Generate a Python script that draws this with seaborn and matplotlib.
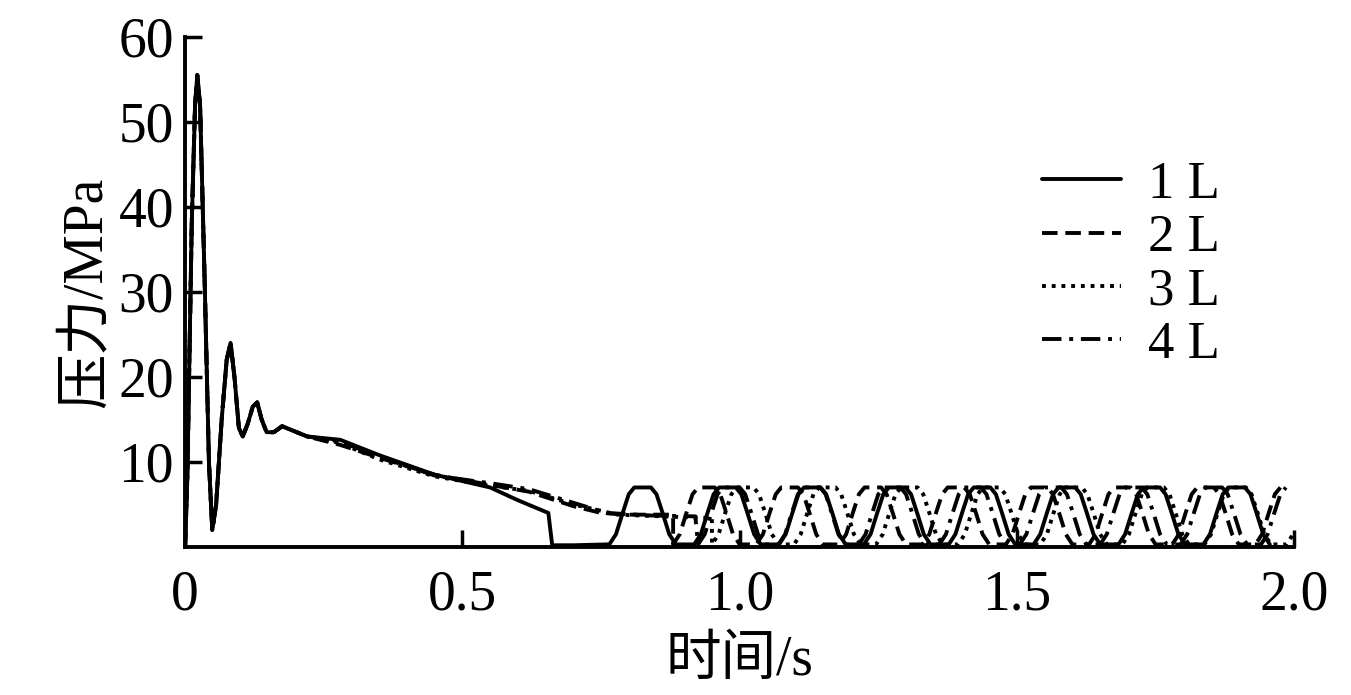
import numpy as np
import pandas as pd
import matplotlib
matplotlib.use("Agg")
import matplotlib.pyplot as plt
import seaborn as sns

sns.set_theme(style="white")
plt.rcParams['font.family'] = ['Liberation Serif', 'Noto Sans CJK SC']
plt.rcParams['text.color'] = 'black'
plt.rcParams['axes.labelcolor'] = 'black'

# early transient (shared by all four volumes)
t_head = [0.0, 0.004, 0.012, 0.018, 0.022, 0.027, 0.035, 0.043, 0.049, 0.056, 0.066, 0.075,
          0.082, 0.089, 0.097, 0.104, 0.113, 0.122, 0.130, 0.138, 0.147, 0.160, 0.175, 0.190]
p_head = [0.0, 8.0, 38.0, 52.0, 55.5, 52.0, 32.0, 10.0, 2.0, 5.0, 15.0, 22.0,
          24.0, 20.0, 14.0, 13.0, 14.5, 16.5, 17.0, 15.0, 13.5, 13.5, 14.2, 13.8]

# decay section per series
t_dec1 = [0.22, 0.28, 0.35, 0.45, 0.55, 0.60, 0.655, 0.662, 0.70, 0.76]
p_dec1 = [13.0, 12.6, 10.8, 8.5, 7.0, 5.5, 4.0, 0.2, 0.2, 0.3]
t_dec2 = [0.22, 0.28, 0.35, 0.45, 0.55, 0.62, 0.70, 0.75, 0.80, 0.88]
p_dec2 = [13.0, 12.0, 10.5, 8.5, 7.3, 6.5, 4.8, 4.0, 3.8, 3.8]
t_dec3 = [0.22, 0.28, 0.35, 0.45, 0.55, 0.62, 0.70, 0.78, 0.86, 0.95]
p_dec3 = [13.0, 12.2, 10.3, 8.3, 7.2, 6.6, 5.0, 3.8, 3.6, 3.4]
t_dec4 = [0.22, 0.28, 0.35, 0.45, 0.55, 0.62, 0.70, 0.76, 0.84, 0.92]
p_dec4 = [13.0, 12.4, 10.6, 8.4, 7.5, 6.8, 5.2, 4.0, 3.7, 3.6]

# pulse train: start times of each pulse, and the pulse profile
pulse_dt = [0.0, 0.012, 0.024, 0.035, 0.045, 0.075, 0.085, 0.096, 0.108, 0.12]
pulse_p = [0.3, 1.5, 4.0, 6.2, 7.0, 7.0, 6.2, 4.0, 1.5, 0.3]
starts1 = [0.765, 0.918, 1.071, 1.224, 1.377, 1.530, 1.683, 1.836]
starts2 = [0.880, 1.030, 1.180, 1.330, 1.480, 1.630, 1.780, 1.930]
starts3 = [0.950, 1.098, 1.246, 1.394, 1.542, 1.690, 1.838, 1.986]
starts4 = [0.925, 1.070, 1.215, 1.360, 1.505, 1.650, 1.795, 1.940]

labels = ["1 L", "2 L", "3 L", "4 L"]
styles = ["-", (0, (4, 2)), (0, (1, 1.5)), (0, (5, 2, 1, 2))]


def build(t_dec, p_dec, starts):
    t = list(t_head) + list(t_dec)
    p = list(p_head) + list(p_dec)
    for s in starts:
        t += [s + d for d in pulse_dt]
        p += pulse_p
    t, p = np.array(t), np.array(p)
    keep = t <= 2.0
    return t[keep], p[keep]


frames = []
for lab, (td, pd_, st) in zip(labels, [(t_dec1, p_dec1, starts1), (t_dec2, p_dec2, starts2),
                                       (t_dec3, p_dec3, starts3), (t_dec4, p_dec4, starts4)]):
    t, p = build(td, pd_, st)
    frames.append(pd.DataFrame({"t": t, "p": p, "vol": lab}))
df = pd.concat(frames, ignore_index=True)

fig = plt.figure(figsize=(13.51, 6.95), dpi=100)
ax = fig.add_axes([0.137, 0.213, 0.821, 0.734])
for lab, ls in zip(labels, styles):
    d = df[df.vol == lab]
    sns.lineplot(x=d.t, y=d.p, ax=ax, color="black", lw=2.8, linestyle=ls, label=lab,
                 sort=False, estimator=None)

ax.set_xlim(0, 2.0)
ax.set_ylim(0, 60)
ax.set_xticks([0, 0.5, 1.0, 1.5, 2.0])
ax.set_xticklabels(["0", "0.5", "1.0", "1.5", "2.0"])
ax.set_yticks([10, 20, 30, 40, 50, 60])
ax.tick_params(direction="in", length=12, width=2.5, labelsize=40, colors="black", pad=8,
               left=True, bottom=True)
ax.tick_params(axis="x", pad=16)
for side in ["top", "right"]:
    ax.spines[side].set_visible(False)
for side in ["left", "bottom"]:
    ax.spines[side].set_linewidth(2.8)
    ax.spines[side].set_color("black")
ax.set_xlabel("时间/s", fontsize=40, labelpad=10)
ax.set_ylabel("压力/MPa", fontsize=40, labelpad=4)
ax.legend(frameon=False, loc="upper left", bbox_to_anchor=(0.73, 0.85), fontsize=38,
          handlelength=1.5, labelspacing=0.1, handletextpad=0.5, labelcolor="black")
fig.savefig("out.png", dpi=100)
